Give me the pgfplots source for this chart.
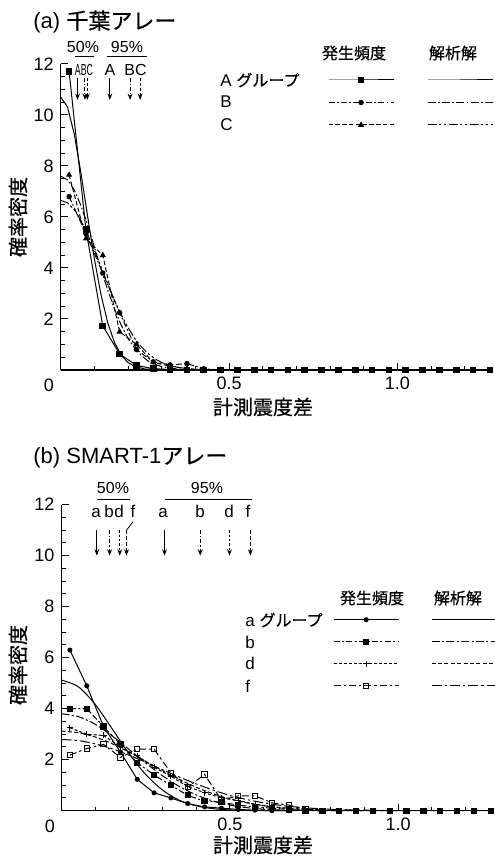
\documentclass[border=0pt]{standalone}
\usepackage{fontspec}
\setmainfont{Liberation Sans}
\newfontfamily\jp{Noto Sans CJK JP}[FakeBold=0.6]
\usepackage{pgfplots}
\pgfplotsset{compat=1.18}
\usetikzlibrary{arrows.meta}
\tikzset{
 dA/.style={solid},
 dB/.style={dash pattern=on 3pt off 1.2pt on 0.8pt off 1.2pt},
 dC/.style={dash pattern=on 2.2pt off 1.2pt},
 aB/.style={dash pattern=on 4pt off 1.2pt on 0.8pt off 1.2pt},
 aC/.style={dash pattern=on 4.5pt off 1.2pt on 1.2pt off 1.2pt on 1.2pt off 1.2pt},
 db/.style={dash pattern=on 3pt off 1.2pt on 1pt off 1.2pt},
 dd/.style={dash pattern=on 1.5pt off 1pt},
 df/.style={dash pattern=on 3.5pt off 1.5pt on 1.2pt off 1.5pt},
 ab/.style={dash pattern=on 4pt off 1.2pt on 1pt off 1.2pt},
 ad/.style={dash pattern=on 2pt off 1.2pt},
 af/.style={dash pattern=on 5pt off 1.5pt on 1.2pt off 1.5pt},
 arr/.style={-{Stealth[length=3.2pt,width=2.4pt]}, line width=0.5pt},
}
\pgfplotsset{
 myaxis/.style={
  scale only axis, width=216.3pt, height=153pt,
  xmin=0, xmax=1.285, ymin=0, ymax=12,
  axis x line*=bottom, axis y line*=left,
  axis line style={line width=0.75pt},
  tick align=inside,
  xtick={0.5,1.0}, xticklabels={0.5,1.0},
  minor xtick={0.1,0.2,0.3,0.4,0.6,0.7,0.8,0.9,1.1,1.2},
  ytick={2,4,6,8,10,12}, minor ytick={0.5,1,...,11.5},
  major tick length=3.5pt, minor tick length=2pt,
  tick style={line width=0.5pt, black},
  ticklabel style={font=\fontsize{9}{9}\selectfont},
  /pgf/number format/assume math mode=true,
  clip=false,
  every axis plot/.append style={line width=0.5pt, black},
  legend columns=2,
  legend image code/.code={\draw[mark repeat=2,mark phase=2,#1] plot coordinates {(0pt,0pt) (16.25pt,0pt) (32.5pt,0pt)};},
 }
}
\begin{document}
\begin{tikzpicture}
\useasboundingbox (0,0) rectangle (247pt,428pt);
% ---------------- panel (a)
\begin{axis}[myaxis, at={(30.35pt,243pt)}, anchor=south west,
  legend style={draw=none, fill=none, inner sep=0pt, outer sep=0pt, column sep=7.75pt, row sep=0pt,
    at={(0.618,0.9845)}, anchor=north west,
    nodes={inner sep=0pt, outer sep=0pt, minimum height=11.25pt, text height=0pt, text depth=0pt, anchor=west}}]
% analytic
\addplot[forget plot, dA] coordinates {(0,10.7)(0.02,10.32)(0.04,9.27)(0.06,7.74)(0.08,6.02)(0.1,4.36)(0.12,2.93)(0.14,1.84)(0.16,1.07)(0.18,0.58)(0.2,0.29)(0.22,0.14)(0.25,0.04)(0.3,0.003)(0.35,0)(0.6,0)};
\addplot[forget plot, aB] coordinates {(0,7.6)(0.02,7.46)(0.04,7.07)(0.06,6.45)(0.08,5.69)(0.1,4.83)(0.12,3.95)(0.14,3.12)(0.16,2.38)(0.18,1.75)(0.2,1.24)(0.22,0.85)(0.24,0.56)(0.26,0.35)(0.28,0.22)(0.3,0.13)(0.35,0.03)(0.4,0.005)(0.45,0)(0.6,0)};
\addplot[forget plot, aC] coordinates {(0,6.65)(0.02,6.56)(0.04,6.29)(0.06,5.87)(0.08,5.32)(0.1,4.70)(0.12,4.03)(0.14,3.37)(0.16,2.73)(0.18,2.16)(0.2,1.66)(0.22,1.24)(0.24,0.90)(0.26,0.64)(0.28,0.44)(0.3,0.29)(0.35,0.094)(0.4,0.026)(0.45,0.006)(0.5,0)(0.6,0)};
% frequency
\addplot[forget plot, dC, mark=triangle*, mark size=1.3pt, mark options={solid}] coordinates {(0.025,7.65)(0.075,5.15)(0.125,4.5)(0.175,1.5)(0.225,1.0)(0.275,0.3)(0.325,0.15)(0.375,0.05)(0.425,0)(0.475,0)};
\addplot[forget plot, dB, mark=*, mark size=1.1pt, mark options={solid}] coordinates {(0.025,6.8)(0.075,5.35)(0.125,3.8)(0.175,2.25)(0.225,0.8)(0.275,0.32)(0.325,0.2)(0.375,0.25)(0.425,0.05)(0.475,0)(0.525,0)};
\addplot[forget plot, dA, mark=square*, mark size=1.4pt, mark options={solid}] coordinates {(0.025,11.7)(0.075,5.5)(0.125,1.73)(0.175,0.63)(0.225,0.18)(0.275,0.05)(0.325,0.02)(0.375,0)(0.425,0)(0.475,0)(0.525,0)(0.575,0)(0.625,0)(0.675,0)(0.725,0)(0.775,0)(0.825,0)(0.875,0)(0.925,0)(0.975,0)(1.025,0)(1.075,0)(1.125,0)(1.175,0)(1.225,0)(1.275,0)};
% legend
\addlegendimage{black, line width=0.5pt, dA, mark=square*, mark size=1.4pt, mark options={solid}}\addlegendentry{\mbox{}}
\addlegendimage{black, line width=0.5pt, dA}\addlegendentry{\mbox{}}
\addlegendimage{black, line width=0.5pt, dB, mark=*, mark size=1.1pt, mark options={solid}}\addlegendentry{\mbox{}}
\addlegendimage{black, line width=0.5pt, aB}\addlegendentry{\mbox{}}
\addlegendimage{black, line width=0.5pt, dC, mark=triangle*, mark size=1.3pt, mark options={solid}}\addlegendentry{\mbox{}}
\addlegendimage{black, line width=0.5pt, aC}\addlegendentry{\mbox{}}
% arrows
\draw[arr, dA] (axis cs:0.050,11.45) -- (axis cs:0.050,10.59);
\draw[arr, dash pattern=on 2pt off 1pt on 0.6pt off 1pt] (axis cs:0.072,11.45) -- (axis cs:0.072,10.59);
\draw[arr, dash pattern=on 1.5pt off 1pt] (axis cs:0.079,11.45) -- (axis cs:0.079,10.59);
\draw[arr, dA] (axis cs:0.146,11.45) -- (axis cs:0.146,10.59);
\draw[arr, dash pattern=on 2pt off 1pt on 0.6pt off 1pt] (axis cs:0.206,11.45) -- (axis cs:0.206,10.59);
\draw[arr, dash pattern=on 1.5pt off 1pt] (axis cs:0.236,11.45) -- (axis cs:0.236,10.59);
\end{axis}
% ---------------- panel (b)
\begin{axis}[myaxis, at={(30.75pt,22.65pt)}, anchor=south west,
  legend style={draw=none, fill=none, inner sep=0pt, outer sep=0pt, column sep=7.5pt, row sep=0pt,
    at={(0.628,0.660)}, anchor=north west,
    nodes={inner sep=0pt, outer sep=0pt, minimum height=11pt, text height=0pt, text depth=0pt, anchor=west}}]
% analytic
\addplot[forget plot, dA, smooth] coordinates {(0,5.12)(0.05,4.86)(0.1,4.17)(0.15,3.22)(0.2,2.25)(0.25,1.42)(0.3,0.81)(0.35,0.41)(0.4,0.19)(0.45,0.08)(0.5,0.03)(0.55,0.01)(0.6,0)(0.7,0)};
\addplot[forget plot, ab, smooth] coordinates {(0,3.8)(0.05,3.69)(0.1,3.39)(0.15,2.94)(0.2,2.41)(0.25,1.87)(0.3,1.37)(0.35,0.95)(0.4,0.62)(0.45,0.38)(0.5,0.22)(0.55,0.12)(0.6,0.06)(0.65,0.03)(0.7,0.015)(0.8,0.003)(0.9,0)};
\addplot[forget plot, ad, smooth] coordinates {(0,3.12)(0.05,3.06)(0.1,2.89)(0.15,2.63)(0.2,2.30)(0.25,1.94)(0.3,1.57)(0.35,1.23)(0.4,0.92)(0.45,0.665)(0.5,0.46)(0.55,0.31)(0.6,0.2)(0.65,0.124)(0.7,0.074)(0.75,0.043)(0.8,0.024)(0.9,0.006)(1.0,0)};
\addplot[forget plot, af, smooth] coordinates {(0,2.79)(0.05,2.75)(0.1,2.62)(0.15,2.43)(0.2,2.18)(0.25,1.90)(0.3,1.61)(0.35,1.32)(0.4,1.05)(0.45,0.81)(0.5,0.6)(0.55,0.44)(0.6,0.31)(0.65,0.21)(0.7,0.14)(0.75,0.09)(0.8,0.056)(0.9,0.02)(1.0,0.006)(1.1,0)};
% frequency
\addplot[forget plot, df, mark=square, mark size=1.3pt, mark options={solid, fill=white}] coordinates {(0.025,2.18)(0.075,2.44)(0.125,2.6)(0.175,2.09)(0.225,2.41)(0.275,2.41)(0.325,1.49)(0.375,0.93)(0.425,1.42)(0.475,0.42)(0.525,0.58)(0.575,0.58)(0.625,0.31)(0.675,0.22)(0.725,0.05)(0.775,0)};
\addplot[forget plot, dd, mark=+, mark size=1.5pt, mark options={solid}] coordinates {(0.025,3.25)(0.075,3.0)(0.125,2.95)(0.175,2.5)(0.225,2.15)(0.275,1.7)(0.325,1.35)(0.375,0.95)(0.425,0.7)(0.475,0.5)(0.525,0.4)(0.575,0.25)(0.625,0.15)(0.675,0.08)(0.725,0.03)(0.775,0)};
\addplot[forget plot, dA, mark=*, mark size=1pt, mark options={solid}] coordinates {(0.025,6.3)(0.075,4.9)(0.125,3.3)(0.175,2.3)(0.225,1.23)(0.275,0.7)(0.325,0.5)(0.375,0.28)(0.425,0.15)(0.475,0.1)(0.525,0.05)(0.575,0.02)(0.625,0)(0.675,0)};
\addplot[forget plot, db, mark=square*, mark size=1.3pt, mark options={solid}] coordinates {(0.025,4.0)(0.075,4.0)(0.125,3.3)(0.175,2.6)(0.225,1.88)(0.275,1.4)(0.325,1.0)(0.375,0.6)(0.425,0.37)(0.475,0.33)(0.525,0.22)(0.575,0.15)(0.625,0.1)(0.675,0.05)(0.725,0)(0.775,0)(0.825,0)(0.875,0)(0.925,0)(0.975,0)(1.025,0)(1.075,0)(1.125,0)(1.175,0)(1.225,0)(1.275,0)};
% legend
\addlegendimage{black, line width=0.5pt, dA, mark=*, mark size=1pt, mark options={solid}}\addlegendentry{\mbox{}}
\addlegendimage{black, line width=0.5pt, dA}\addlegendentry{\mbox{}}
\addlegendimage{black, line width=0.5pt, db, mark=square*, mark size=1.3pt, mark options={solid}}\addlegendentry{\mbox{}}
\addlegendimage{black, line width=0.5pt, ab}\addlegendentry{\mbox{}}
\addlegendimage{black, line width=0.5pt, dd, mark=+, mark size=1.5pt, mark options={solid}}\addlegendentry{\mbox{}}
\addlegendimage{black, line width=0.5pt, ad}\addlegendentry{\mbox{}}
\addlegendimage{black, line width=0.5pt, df, mark=square, mark size=1.3pt, mark options={solid, fill=white}}\addlegendentry{\mbox{}}
\addlegendimage{black, line width=0.5pt, af}\addlegendentry{\mbox{}}
% arrows
\draw[arr, dA] (axis cs:0.105,11.0) -- (axis cs:0.105,10.0);
\draw[arr, dash pattern=on 2pt off 1pt on 0.6pt off 1pt] (axis cs:0.143,11.0) -- (axis cs:0.143,10.0);
\draw[arr, dash pattern=on 1.2pt off 1pt] (axis cs:0.173,11.0) -- (axis cs:0.173,10.0);
\draw[arr, dash pattern=on 2pt off 1pt] (axis cs:0.193,11.0) -- (axis cs:0.193,10.0);
\draw[arr, dA] (axis cs:0.306,11.0) -- (axis cs:0.306,10.0);
\draw[arr, dash pattern=on 2pt off 1pt on 0.6pt off 1pt] (axis cs:0.412,11.0) -- (axis cs:0.412,10.0);
\draw[arr, dash pattern=on 1.2pt off 1pt] (axis cs:0.499,11.0) -- (axis cs:0.499,10.0);
\draw[arr, dash pattern=on 2pt off 1pt] (axis cs:0.561,11.0) -- (axis cs:0.561,10.0);
\end{axis}
% ---------------- texts panel (a)
\node[anchor=west, font=\fontsize{11}{11}\selectfont, inner sep=0pt] at (16.5pt,417pt) {(a) {\jp 千葉アレー}};
\node[font=\fontsize{8}{8}\selectfont, inner sep=0pt] at (41.5pt,404.5pt) {50\%};
\node[font=\fontsize{8}{8}\selectfont, inner sep=0pt] at (63.5pt,404.5pt) {95\%};
\draw[line width=0.5pt] (37.5pt,399.5pt) -- (47pt,399.5pt);
\draw[line width=0.5pt] (53.5pt,399.5pt) -- (73.5pt,399.5pt);
\node[font=\fontsize{8}{8}\selectfont, inner sep=0pt] at (42pt,393pt) {\scalebox{0.55}[1]{ABC}};
\node[font=\fontsize{8}{8}\selectfont, inner sep=0pt] at (55pt,393pt) {A};
\node[font=\fontsize{8}{8}\selectfont, inner sep=0pt] at (67.75pt,393pt) {BC};
\node[rotate=90, font=\fontsize{10}{10}\selectfont\jp] at (9pt,319.5pt) {確率密度};
\node[font=\fontsize{10}{10}\selectfont\jp] at (131.5pt,224.5pt) {計測震度差};
\node[font=\fontsize{9}{9}\selectfont, inner sep=0pt] at (24.5pt,235.5pt) {0};
\node[font=\fontsize{8}{8}\selectfont\jp, inner sep=0pt] at (177pt,401.5pt) {発生頻度};
\node[font=\fontsize{8}{8}\selectfont\jp, inner sep=0pt] at (226.5pt,401.5pt) {解析解};
\node[anchor=west, font=\fontsize{8.5}{8.5}\selectfont, inner sep=0pt] at (110pt,388pt) {A {\jp\fontsize{8}{8}\selectfont グループ}};
\node[anchor=west, font=\fontsize{8.5}{8.5}\selectfont, inner sep=0pt] at (110pt,377pt) {B};
\node[anchor=west, font=\fontsize{8.5}{8.5}\selectfont, inner sep=0pt] at (110pt,365.5pt) {C};
% ---------------- texts panel (b)
\node[anchor=west, font=\fontsize{11}{11}\selectfont, inner sep=0pt] at (16.5pt,199pt) {(b) SMART-1{\jp アレー}};
\node[font=\fontsize{8}{8}\selectfont, inner sep=0pt] at (56.5pt,184pt) {50\%};
\node[font=\fontsize{8}{8}\selectfont, inner sep=0pt] at (103.5pt,184pt) {95\%};
\draw[line width=0.5pt] (48.5pt,178pt) -- (65pt,178pt);
\draw[line width=0.5pt] (82.5pt,178pt) -- (126pt,178pt);
\foreach \x/\t in {48/a,54.5/b,59.5/d,66.5/f,81.5/a,100/b,114.5/d,124/f}
  \node[font=\fontsize{8.5}{8.5}\selectfont, inner sep=0pt, anchor=base] at (\x pt,169pt) {\t};
\draw[line width=0.4pt] (66.5pt,167.1pt) -- (63.3pt,163pt);
\node[rotate=90, font=\fontsize{10}{10}\selectfont\jp] at (9pt,95.5pt) {確率密度};
\node[font=\fontsize{10}{10}\selectfont\jp] at (131.5pt,5.5pt) {計測震度差};
\node[font=\fontsize{9}{9}\selectfont, inner sep=0pt] at (25pt,15pt) {0};
\node[font=\fontsize{8}{8}\selectfont\jp, inner sep=0pt] at (186pt,129pt) {発生頻度};
\node[font=\fontsize{8}{8}\selectfont\jp, inner sep=0pt] at (229pt,129pt) {解析解};
\node[anchor=west, font=\fontsize{8.5}{8.5}\selectfont, inner sep=0pt] at (122.5pt,118pt) {a {\jp\fontsize{8}{8}\selectfont グループ}};
\node[anchor=west, font=\fontsize{8.5}{8.5}\selectfont, inner sep=0pt] at (122.5pt,107pt) {b};
\node[anchor=west, font=\fontsize{8.5}{8.5}\selectfont, inner sep=0pt] at (122.5pt,96.5pt) {d};
\node[anchor=west, font=\fontsize{8.5}{8.5}\selectfont, inner sep=0pt] at (122.5pt,85pt) {f};
\end{tikzpicture}
\end{document}
